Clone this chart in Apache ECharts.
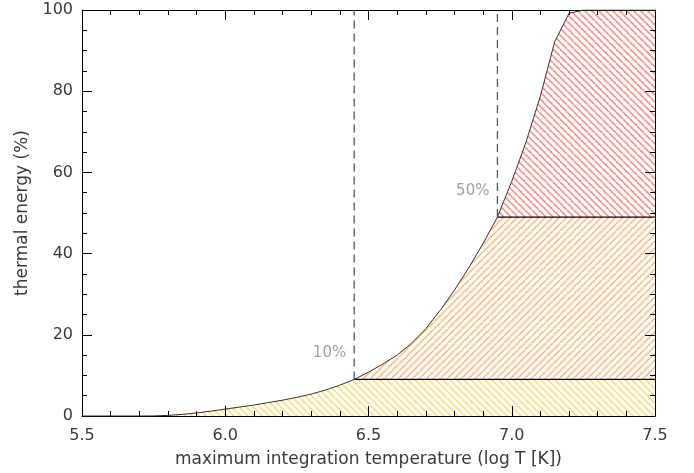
<!DOCTYPE html>
<html>
<head>
<meta charset="utf-8">
<script src="https://cdn.jsdelivr.net/npm/echarts@6/dist/echarts.min.js"></script>
<style>html,body{margin:0;padding:0;background:#fff}#c{width:694px;height:473px}</style>
</head>
<body>
<div id="c"></div>
<script>
// log T sampled values and thermal energy (%)
const logT = [5.50,5.55,5.60,5.65,5.70,5.75,5.80,5.85,5.90,5.95,
              6.00,6.05,6.10,6.15,6.20,6.25,6.30,6.35,6.40,6.45,
              6.50,6.55,6.60,6.65,6.70,6.75,6.80,6.85,6.90,6.95,
              7.00,7.05,7.10,7.15,7.20,7.25,7.30,7.35,7.40,7.45,7.50];
const energy = [0,0,0,0,0,0.02,0.15,0.4,0.75,1.2,
                1.7,2.2,2.7,3.3,3.9,4.6,5.4,6.4,7.6,9.0,
                10.8,12.8,15.0,17.9,21.5,26.0,31.0,36.5,42.5,49.0,
                57.8,67.5,78.8,92.2,99.2,100,100,100,100,100,100];
// thresholds: log T where 10% and 50% are reached, with curve level there
const thresholdT = [6.45, 6.95];
const thresholdLevel = [9.0, 49.0];
const thresholdLabels = ['10%', '50%'];
const labelHeights = [15.5, 55.5];
const xTicks = ['5.5','6.0','6.5','7.0','7.5'];
const yTicks = ['0','20','40','60','80','100'];

function hatch(color, dir) {
  const s = 7;
  const c = document.createElement('canvas');
  c.width = s; c.height = s;
  const g = c.getContext('2d');
  g.fillStyle = '#fff'; g.fillRect(0, 0, s, s);
  g.strokeStyle = color; g.lineWidth = 1.6;
  [-s, 0, s, 2 * s].forEach(k => {
    g.beginPath();
    if (dir === '\\') { g.moveTo(k, 0); g.lineTo(k + s, s); }
    else { g.moveTo(k, 0); g.lineTo(k - s, s); }
    g.stroke();
  });
  return { image: c, repeat: 'repeat' };
}

const full = logT.map((x, i) => [x, energy[i]]);
const capMid = logT.map((x, i) => [x, Math.min(energy[i], thresholdLevel[1])]);
const capLow = logT.map((x, i) => [x, Math.min(energy[i], thresholdLevel[0])]);

const font = 'DejaVu Sans';
const tc = '#3a3a3a';
const chart = echarts.init(document.getElementById('c'), null, { renderer: 'canvas' });

function axisCommon(extra) {
  return Object.assign({
    type: 'value',
    z: 5,
    axisLine: { show: true, onZero: false, lineStyle: { color: '#000', width: 1 } },
    axisTick: { show: true, inside: true, length: 10, lineStyle: { color: '#000', width: 1 } },
    minorTick: { show: true, length: 5, lineStyle: { color: '#000', width: 1 } },
    splitLine: { show: false },
    minorSplitLine: { show: false }
  }, extra);
}

const area = (data, fill, z) => ({
  type: 'line', data, symbol: 'none', silent: true, z,
  lineStyle: { width: 0, opacity: 0 },
  areaStyle: { color: fill, opacity: 1, origin: 'start' }
});

const series = [
  area(full, hatch('#ff8f86', '\\'), 1),
  area(capMid, hatch('#ffbd80', '/'), 2),
  area(capLow, hatch('#ffdc78', '\\'), 3),
  {
    type: 'line', data: full, symbol: 'none', silent: true, z: 6,
    lineStyle: { color: '#333', width: 1 }
  }
];
thresholdT.forEach((t, i) => {
  series.push({
    type: 'line', symbol: 'none', silent: true, z: 6,
    data: [[t, thresholdLevel[i]], [7.5, thresholdLevel[i]]],
    lineStyle: { color: '#000', width: 1.3 }
  });
  series.push({
    type: 'line', symbol: 'none', silent: true, z: 6,
    data: [[t, thresholdLevel[i]], [t, 100]],
    lineStyle: { color: '#555', width: 1.3, type: [8, 5] }
  });
  series.push({
    type: 'scatter', symbolSize: 0, silent: true, z: 6,
    data: [[t, labelHeights[i]]],
    label: {
      show: true, position: 'left', distance: 8,
      formatter: thresholdLabels[i],
      color: '#888', fontFamily: font, fontSize: 15
    }
  });
});

chart.setOption({
  animation: false,
  backgroundColor: '#fff',
  grid: { left: 82, right: 39, top: 10, bottom: 56, containLabel: false },
  xAxis: [
    axisCommon({
      min: 5.5, max: 7.5, interval: 0.5, position: 'bottom',
      minorTick: { show: true, splitNumber: 5, length: 5, lineStyle: { color: '#000' } },
      axisLabel: { margin: 12, color: tc, fontFamily: font, fontSize: 16,
        formatter: v => xTicks[Math.round((v - 5.5) / 0.5)] },
      name: 'maximum integration temperature (log T [K])',
      nameLocation: 'middle', nameGap: 35,
      nameTextStyle: { color: tc, fontFamily: font, fontSize: 17 }
    }),
    axisCommon({
      min: 5.5, max: 7.5, interval: 0.5, position: 'top',
      minorTick: { show: true, splitNumber: 5, length: 5, lineStyle: { color: '#000' } },
      axisLabel: { show: false }
    })
  ],
  yAxis: [
    axisCommon({
      min: 0, max: 100, interval: 20, position: 'left',
      minorTick: { show: true, splitNumber: 4, length: 5, lineStyle: { color: '#000' } },
      axisLabel: { margin: 9, color: tc, fontFamily: font, fontSize: 16,
        formatter: v => yTicks[Math.round(v / 20)] },
      name: 'thermal energy (%)',
      nameLocation: 'middle', nameGap: 51,
      nameTextStyle: { color: tc, fontFamily: font, fontSize: 17 }
    }),
    axisCommon({
      min: 0, max: 100, interval: 20, position: 'right',
      minorTick: { show: true, splitNumber: 4, length: 5, lineStyle: { color: '#000' } },
      axisLabel: { show: false }
    })
  ],
  series
});
</script>
</body>
</html>
